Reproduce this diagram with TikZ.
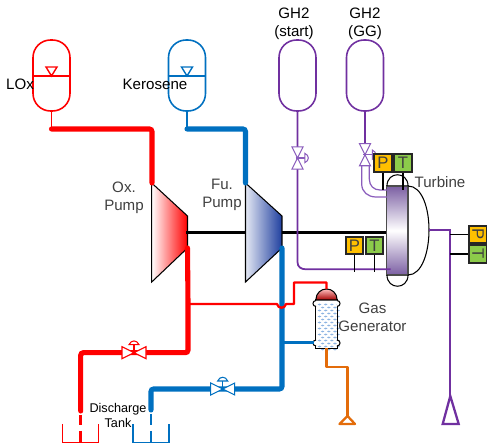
\documentclass[tikz,border=0pt]{standalone}
\usepackage{fontspec}
\setmainfont{Liberation Sans}
\usepackage{xcolor}
\usetikzlibrary{arrows.meta, positioning}
\definecolor{loxred}{HTML}{FF0000}
\definecolor{kerblue}{HTML}{0070C0}
\definecolor{gaspurple}{HTML}{7030A0}
\definecolor{valvepurple}{HTML}{8A5CBC}
\definecolor{exhorange}{HTML}{E36C0A}
\definecolor{labelgray}{HTML}{404040}
\definecolor{pressbox}{HTML}{FFC000}
\definecolor{tempbox}{HTML}{8CCB4A}
\definecolor{fuelshade}{HTML}{1F3F9F}
\definecolor{turbshade}{HTML}{7B5FA3}
\definecolor{ggdots}{HTML}{8DB4E2}
\tikzset{
  heavypipe/.style={line width=2.9pt, line cap=round, rounded corners=1.5pt},
  midpipe/.style={line width=1.3pt, line join=round},
  thinpipe/.style={line width=0.8pt},
  tankbody/.style={draw, fill=white, line width=0.9pt, minimum width=0.74cm, minimum height=1.42cm, inner sep=0pt, rounded corners=0.35cm},
  sensorbox/.style={draw=black!85, line width=1.1pt, minimum size=0.35cm, inner sep=0pt, text=labelgray, font=\fontsize{9.5}{10}\selectfont},
  labeltext/.style={align=center, inner sep=0pt, font=\fontsize{8.6}{10.2}\selectfont},
  pics/bowtie/.style={code={
    \draw[line width=0.6pt, fill=white] (-12,-6) -- (0,0) -- (-12,6) -- cycle;
    \draw[line width=0.6pt, fill=white] (12,-6) -- (0,0) -- (12,6) -- cycle;
    \draw[line width=0.8pt] (0,2) -- (0,-8);
    \draw[line width=0.6pt, fill=white] (-5,-8) .. controls (-3,-13) and (3,-13) .. (5,-8) -- cycle;
  }},
}
\begin{document}
\begin{tikzpicture}[x=0.02cm,y=-0.02cm]
\useasboundingbox (0,0) rectangle (487,445);
% tanks
\node[tankbody,draw=loxred] (loxtank) at (51.5,75.5) {};
\node[tankbody,draw=kerblue] (kertank) at (187,75.5) {};
\node[tankbody,draw=gaspurple] (startbottle) at (297.5,75.5) {};
\node[tankbody,draw=gaspurple] (ggbottle) at (365,75.5) {};
\draw[loxred,thinpipe] (loxtank.west |- 0,76) -- (loxtank.east |- 0,76);
\draw[loxred,thinpipe] (46,67) -- (57,67) -- (51.5,76) -- cycle;
\draw[kerblue,thinpipe] (kertank.west |- 0,76) -- (kertank.east |- 0,76);
\draw[kerblue,thinpipe] (181.5,67) -- (192.5,67) -- (187,76) -- cycle;
% pumps and shaft
\coordinate (oxin) at (152,183);
\coordinate (oxout) at (187.5,248);
\coordinate (fuin) at (245.5,183);
\coordinate (fuout) at (282,248);
\coordinate (shaftstart) at (186,232.5);
\coordinate (shaftend) at (387,232.5);
\shade[left color=white,right color=loxred,draw=black,line width=0.6pt] (151.7,183) -- (187.5,216) -- (187.5,248) -- (151.7,282) -- cycle;
\draw[line width=1.8pt] (shaftstart) -- (shaftend);
\shade[left color=fuelshade!12!white,right color=fuelshade,draw=black,line width=0.6pt] (245.5,183) -- (282,216) -- (282,248) -- (245.5,282) -- cycle;
% LOx side
\coordinate (loxtee) at (51.5,129);
\coordinate (oxtee) at (188,304);
\coordinate (loxdrop) at (80.7,411);
\draw[loxred,line width=1pt] (loxtank.south) -- (loxtee);
\draw[loxred,heavypipe] (loxtee) -- (152,129) -- (oxin);
\draw[loxred,heavypipe] (oxout) -- (oxtee) -- (188,352.7) -- (80.7,352.7) -- (loxdrop);
% Kerosene side
\coordinate (kertee) at (187,129);
\coordinate (fudrop) at (151,410);
\draw[kerblue,line width=1pt] (kertank.south) -- (kertee);
\draw[kerblue,heavypipe] (kertee) -- (245.5,129) -- (fuin);
\draw[kerblue,heavypipe] (fuout) -- (282,389) -- (151,389) -- (fudrop);
% discharge tanks
\draw[loxred,line width=1.6pt] (80.7,415) -- (80.7,425);
\draw[loxred,line width=1.6pt] (80.7,431) -- (80.7,443);
\draw[loxred,thinpipe] (62.3,424) -- (62.3,442.7) -- (98.7,442.7) -- (98.7,424);
\draw[kerblue,line width=1.6pt] (151,414) -- (151,425);
\draw[kerblue,line width=1.6pt] (151,431) -- (151,443);
\draw[kerblue,thinpipe] (133,424) -- (133,442.7) -- (169,442.7) -- (169,424);
\pic[draw=loxred] at (134,352.7) {bowtie};
\pic[draw=kerblue] at (222.7,389) {bowtie};
% gas generator
\node[fill=white,minimum width=0.43cm,minimum height=0.96cm,inner sep=0pt] (gasgen) at (326.5,324) {};
\foreach \row in {0,1,2,3,4,5,6,7} {
  \foreach \col in {0,1,2,3} {
    \fill[ggdots] ({319.5+\col*6.2},{304.5+\row*6}) ellipse (1.8 and 0.9);
    \ifnum\col<3 \fill[ggdots] ({322.6+\col*6.2},{307.5+\row*6}) ellipse (1.8 and 0.9); \fi
  }
}
\draw[line width=0.8pt] (gasgen.south west) rectangle (gasgen.north east);
\shade[top color=red!25!white,bottom color=red!65!black,draw=black,line width=0.6pt] (315.8,300) .. controls (316,293) and (321,289) .. (326.5,289) .. controls (332,289) and (337,293) .. (337.2,300) -- cycle;
\draw[line width=0.6pt,fill=white] (316,300.5) .. controls (312,300.5) and (312,306.5) .. (316,306.5);
\draw[line width=0.6pt,fill=white] (337,300.5) .. controls (341,300.5) and (341,306.5) .. (337,306.5);
\draw[line width=0.6pt,fill=white] (316,340) .. controls (312,340) and (312,346) .. (316,346);
\draw[line width=0.6pt,fill=white] (337,340) .. controls (341,340) and (341,346) .. (337,346);
\coordinate (ggtop) at (326.5,289);
\coordinate (ggfuel) at (314,342.5);
\coordinate (ventorange) at (347.5,416);
\draw[loxred,midpipe] (oxtee) -- (277,304) .. controls (278,309) and (285,309) .. (286,304) -- (294,304) -- (294,282.5) -- (326.5,282.5) -- (ggtop);
\draw[kerblue,midpipe] (282,342.5) -- (ggfuel);
\draw[exhorange,midpipe] (gasgen.south) -- (326.5,366.7) -- (347.5,366.7) -- (ventorange);
\draw[exhorange,midpipe] (339.5,424) -- (355,424) -- (ventorange) -- cycle;
% turbine
\shade[top color=turbshade,bottom color=turbshade,middle color=white,draw=black!70,line width=0.8pt] (386.7,186) rectangle (408,275);
\draw[line width=0.6pt] (408,186) .. controls (422,186) and (429,208) .. (429,230) .. controls (429,252) and (422,275) .. (408,275);
\draw[line width=0.6pt] (387,186) .. controls (387,171) and (408,171) .. (408,186);
\draw[line width=0.6pt] (387,275) .. controls (387,290) and (408,290) .. (408,275);
% GH2 lines
\coordinate (startend) at (390.5,269.3);
\coordinate (turbout) at (429,230);
\coordinate (ventpurple) at (450.3,396);
\draw[gaspurple,line width=1pt] (startbottle.south) -- (297.5,262) .. controls (297.5,267) and (301,269.3) .. (306,269.3) -- (startend);
\draw[gaspurple,line width=1pt] (ggbottle.south) -- (365,150);
\draw[valvepurple,line width=0.7pt] (361.7,165) -- (361.7,184) .. controls (361.7,192) and (368,197) .. (376,197) -- (387,197);
\draw[valvepurple,line width=0.7pt] (369.3,165) -- (369.3,179) .. controls (369.3,186) and (374,190) .. (380,190) -- (387,190);
\pic[draw=valvepurple,rotate=-90,scale=0.92] at (297.5,158) {bowtie};
\pic[draw=valvepurple,rotate=-90,scale=0.92] at (365,154.7) {bowtie};
\draw[gaspurple,line width=1.3pt] (turbout) -- (450.3,230) -- (ventpurple);
\draw[gaspurple,line width=1.3pt] (442.7,424) -- (458.7,424) -- (ventpurple) -- cycle;
% sensors
\node[sensorbox,fill=pressbox] (ptop) at (383,163) {P};
\node[sensorbox,fill=tempbox] (ttop) at (403,163) {T};
\node[sensorbox,fill=pressbox] (pshaft) at (354.5,245.5) {P};
\node[sensorbox,fill=tempbox] (tshaft) at (374.5,245.5) {T};
\node[sensorbox,fill=pressbox] (pout) at (478,234.5) {\rotatebox{-90}{P}};
\node[sensorbox,fill=tempbox] (tout) at (478,254) {\rotatebox{-90}{T}};
\coordinate (ptopend) at (383,190);
\coordinate (ttopend) at (403,190);
\coordinate (pshaftend) at (354.5,272);
\coordinate (tshaftend) at (374.5,272);
\draw[thinpipe] (ptop) -- (ptopend);
\draw[thinpipe] (ttop) -- (ttopend);
\draw[thinpipe] (pshaft) -- (pshaftend);
\draw[thinpipe] (tshaft) -- (tshaftend);
\draw[thinpipe] (450.3,234.5) -- (pout);
\draw[thinpipe] (450.3,254) -- (tout);
% labels
\node[labeltext] (loxlabel) at (20,84) {LOx};
\node[labeltext] (kerlabel) at (155,84) {Kerosene};
\node[labeltext] (h2start) at (294,24) {GH2\\(start)};
\node[labeltext] (h2gg) at (365,24) {GH2\\(GG)};
\node[labeltext,text=labelgray] (oxlabel) at (124,198) {Ox.\\Pump};
\node[labeltext,text=labelgray] (fulabel) at (222,195) {Fu.\\Pump};
\node[labeltext,text=labelgray] (turblabel) at (440,182) {Turbine};
\node[labeltext,text=labelgray] (gglabel) at (372.5,317.5) {Gas\\Generator};
\node[labeltext,font=\fontsize{7.2}{8.6}\selectfont] (tanklabel) at (118,415.5) {Discharge\\Tank};
\end{tikzpicture}
\end{document}
